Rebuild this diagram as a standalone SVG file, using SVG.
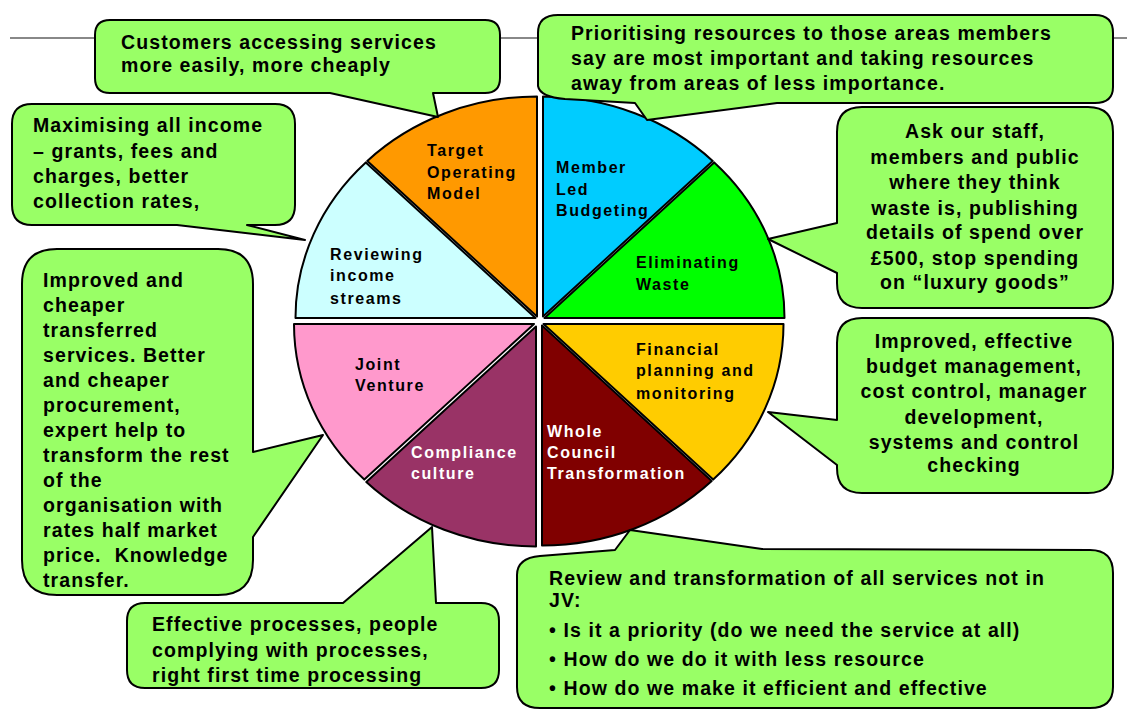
<svg xmlns="http://www.w3.org/2000/svg" width="1127" height="720" viewBox="0 0 1127 720">
<style>
.sl{stroke:#000;stroke-width:2;stroke-linejoin:round}
.co{fill:#99FF66;stroke:#000;stroke-width:2;stroke-linejoin:round}
.t{font-family:"Liberation Sans",Arial,sans-serif;font-weight:bold;font-size:19.5px;letter-spacing:1.1px;fill:#000}
.c{text-anchor:middle}
.p{font-family:"Liberation Sans",Arial,sans-serif;font-weight:bold;font-size:16px;letter-spacing:1.6px;fill:#000}
.w{fill:#fff}
</style>
<rect width="1127" height="720" fill="#fff"/>
<g id="rule"><line x1="10" y1="38" x2="1127" y2="38" stroke="#888" stroke-width="2"/></g>
<g id="pie">
<g id="slice-member-led-budgeting"><path class="sl" fill="#00CCFF" d="M543,316.5 L712.7,160.9 A240,220 0 0 0 543,96.5 Z"/>
<text class="p"><tspan x="556" y="173">Member</tspan><tspan x="556" y="195">Led</tspan><tspan x="556" y="216">Budgeting</tspan></text></g>
<g id="slice-eliminating-waste"><path class="sl" fill="#00FF00" d="M544.5,318 L784.5,318 A240,220 0 0 0 714.2,162.4 Z"/>
<text class="p"><tspan x="636" y="268">Eliminating</tspan><tspan x="636" y="290">Waste</tspan></text></g>
<g id="slice-target-operating-model"><path class="sl" fill="#FF9900" d="M537,316.5 L537,96.5 A240,220 0 0 0 367.3,160.9 Z"/>
<text class="p"><tspan x="427" y="156">Target</tspan><tspan x="427" y="178">Operating</tspan><tspan x="427" y="199">Model</tspan></text></g>
<g id="slice-reviewing-income-streams"><path class="sl" fill="#CCFFFF" d="M535.5,318 L365.8,162.4 A240,220 0 0 0 295.5,318 Z"/>
<text class="p"><tspan x="330" y="260">Reviewing</tspan><tspan x="330" y="281">income</tspan><tspan x="330" y="304">streams</tspan></text></g>
<g id="slice-joint-venture"><path class="sl" fill="#FF99CC" d="M534,324 L294,324 A240,220 0 0 0 364.3,479.6 Z"/>
<text class="p"><tspan x="355" y="370">Joint</tspan><tspan x="355" y="391">Venture</tspan></text></g>
<g id="slice-compliance-culture"><path class="sl" fill="#993366" d="M536,326.5 L366.3,482.1 A240,220 0 0 0 536,546.5 Z"/>
<text class="p w"><tspan x="411" y="458">Compliance</tspan><tspan x="411" y="479">culture</tspan></text></g>
<g id="slice-whole-council-transformation"><path class="sl" fill="#800000" d="M542,325.5 L542,545.5 A240,220 0 0 0 711.7,481.1 Z"/>
<text class="p w"><tspan x="547" y="437">Whole</tspan><tspan x="547" y="458">Council</tspan><tspan x="547" y="479">Transformation</tspan></text></g>
<g id="slice-financial-planning"><path class="sl" fill="#FFCC00" d="M543.5,324 L713.2,479.6 A240,220 0 0 0 783.5,324 Z"/>
<text class="p"><tspan x="636" y="355">Financial</tspan><tspan x="636" y="376">planning and</tspan><tspan x="636" y="399">monitoring</tspan></text></g>
</g>
<g id="callout-customers"><path class="co" d="M110,20 L485,20 Q500,20 500,35 L500,78 Q500,93 485,93 L433,93 L438,117 L330,93 L110,93 Q95,93 95,78 L95,35 Q95,20 110,20 Z"/>
<text class="t"><tspan x="121" y="49">Customers accessing services</tspan><tspan x="121" y="72">more easily, more cheaply</tspan></text></g>
<g id="callout-prioritising"><path class="co" d="M558,15 L1095,15 Q1113,15 1113,33 L1113,87 Q1113,103 1095,103 L777,103 L647,120 L635,103 L565,99 Q540,97 538,86 L538,33 Q538,15 558,15 Z"/>
<text class="t"><tspan x="571" y="40">Prioritising resources to those areas members</tspan><tspan x="571" y="65">say are most important and taking resources</tspan><tspan x="571" y="90">away from areas of less importance.</tspan></text></g>
<g id="callout-maximising"><path class="co" d="M32,104 L275,104 Q295,104 295,124 L295,205 Q295,225 275,225 L247,225 L305,240 L177,225 L32,225 Q12,225 12,205 L12,124 Q12,104 32,104 Z"/>
<text class="t"><tspan x="33" y="132">Maximising all income</tspan><tspan x="33" y="158">– grants, fees and</tspan><tspan x="33" y="183">charges, better</tspan><tspan x="33" y="208">collection rates,</tspan></text></g>
<g id="callout-improved-cheaper"><path class="co" d="M57,249 L218,249 Q253,249 253,284 L253,452 L323,435 L253,537 L253,560 Q253,595 218,595 L57,595 Q22,595 22,560 L22,284 Q22,249 57,249 Z"/>
<text class="t"><tspan x="43" y="287">Improved and</tspan><tspan x="43" y="312">cheaper</tspan><tspan x="43" y="337">transferred</tspan><tspan x="43" y="362">services. Better</tspan><tspan x="43" y="387">and cheaper</tspan><tspan x="43" y="412">procurement,</tspan><tspan x="43" y="437">expert help to</tspan><tspan x="43" y="462">transform the rest</tspan><tspan x="43" y="487">of the</tspan><tspan x="43" y="512">organisation with</tspan><tspan x="43" y="537">rates half market</tspan><tspan x="43" y="562">price.&#160; Knowledge</tspan><tspan x="43" y="587">transfer.</tspan></text></g>
<g id="callout-effective"><path class="co" d="M145,603 L343,603 L432,527 L436,603 L481,603 Q499,603 499,621 L499,670 Q499,688 481,688 L145,688 Q127,688 127,670 L127,621 Q127,603 145,603 Z"/>
<text class="t"><tspan x="152" y="631">Effective processes, people</tspan><tspan x="152" y="657">complying with processes,</tspan><tspan x="152" y="682">right first time processing</tspan></text></g>
<g id="callout-ask"><path class="co" d="M862,107 L1088,107 Q1113,107 1113,132 L1113,283 Q1113,308 1088,308 L862,308 Q837,308 837,283 L837,273 L768,239 L837,223 L837,132 Q837,107 862,107 Z"/>
<text class="t c"><tspan x="975" y="138">Ask our staff,</tspan><tspan x="975" y="164">members and public</tspan><tspan x="975" y="189">where they think</tspan><tspan x="975" y="215">waste is, publishing</tspan><tspan x="975" y="239">details of spend over</tspan><tspan x="975" y="265">£500, stop spending</tspan><tspan x="975" y="289">on “luxury goods”</tspan></text></g>
<g id="callout-budget"><path class="co" d="M862,318 L1088,318 Q1113,318 1113,343 L1113,468 Q1113,493 1088,493 L862,493 Q837,493 837,468 L837,465 L768,412 L837,420 L837,343 Q837,318 862,318 Z"/>
<text class="t c"><tspan x="974" y="348">Improved, effective</tspan><tspan x="974" y="373">budget management,</tspan><tspan x="974" y="398">cost control, manager</tspan><tspan x="974" y="424">development,</tspan><tspan x="974" y="449">systems and control</tspan><tspan x="974" y="472">checking</tspan></text></g>
<g id="callout-review"><path class="co" d="M540,556 L615,550 L630,530 L762,549 L1090,550 Q1113,550 1113,573 L1113,687 Q1113,708 1090,708 L540,708 Q517,708 517,687 L517,575 Q517,558 540,556 Z"/>
<text class="t"><tspan x="549" y="585">Review and transformation of all services not in</tspan><tspan x="549" y="607">JV:</tspan><tspan x="549" y="637">• Is it a priority (do we need the service at all)</tspan><tspan x="549" y="666">• How do we do it with less resource</tspan><tspan x="549" y="695">• How do we make it efficient and effective</tspan></text></g>
</svg>
